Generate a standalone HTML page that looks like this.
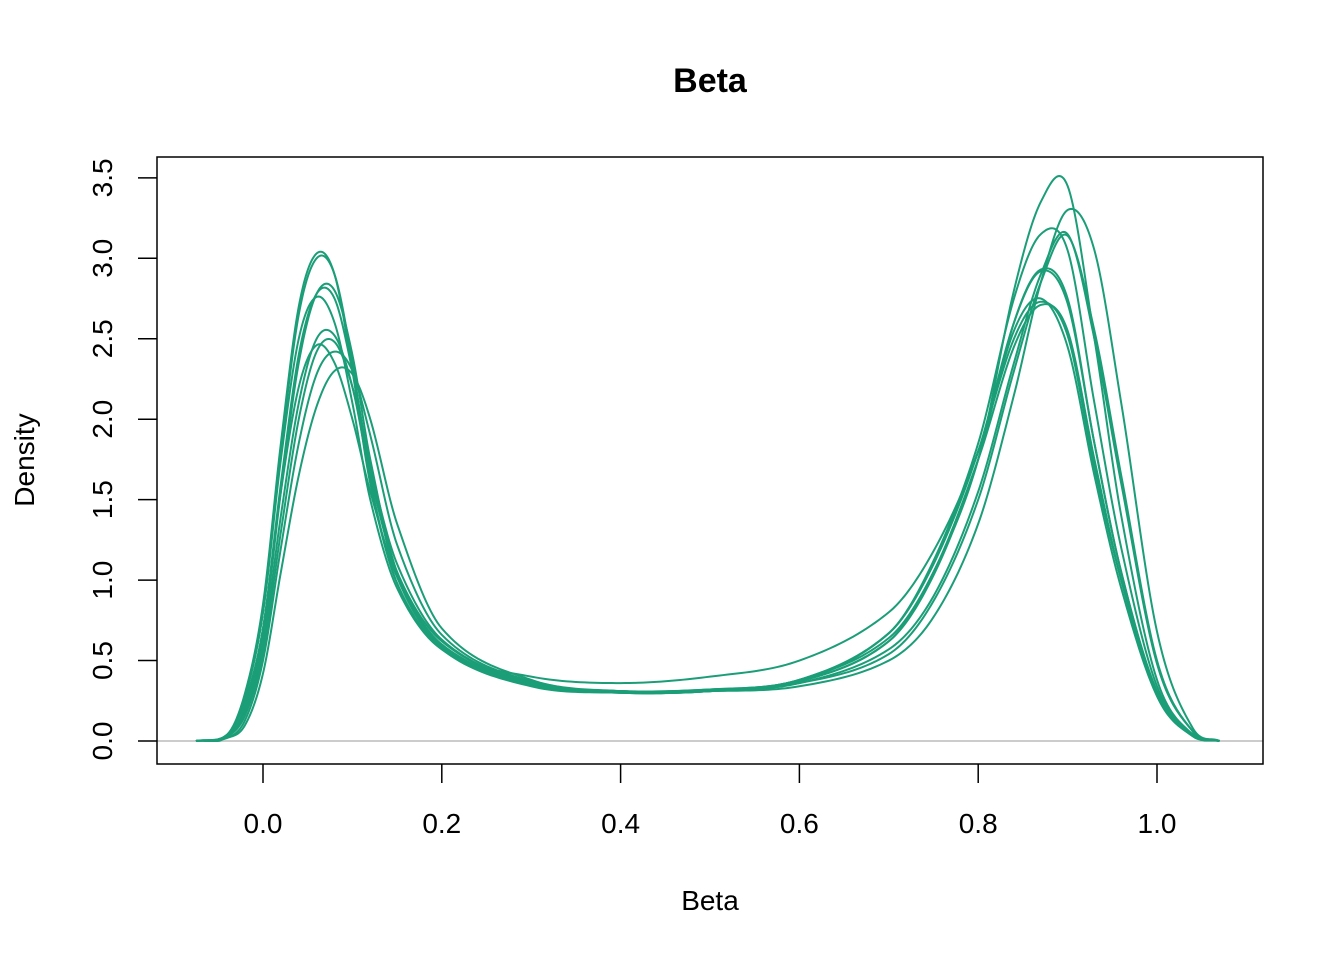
<!DOCTYPE html>
<html><head><meta charset="utf-8"><style>
html,body{margin:0;padding:0;background:#fff;}
svg{display:block;font-family:"Liberation Sans",Arial,sans-serif;}
</style></head><body>
<svg id="chart" width="1344" height="960" viewBox="0 0 1344 960">
<rect width="1344" height="960" fill="#fff"/>
<text x="710" y="92" text-anchor="middle" font-weight="bold" style="font-size:34px">Beta</text>
<text x="710" y="910" text-anchor="middle" style="font-size:28px">Beta</text>
<text transform="translate(34,460) rotate(-90)" text-anchor="middle" style="font-size:28px">Density</text>
<line x1="157" y1="741" x2="1263" y2="741" stroke="#cccccc" stroke-width="2"/>
<g id="curves"></g>
<rect x="157" y="157" width="1106" height="607" fill="none" stroke="#000" stroke-width="1.5"/>
<g id="axes"></g>
</svg>
<script>
const xGrid=[-0.075,-0.04,-0.02,0,0.02,0.04,0.06,0.08,0.10,0.12,0.15,0.2,0.3,0.4,0.5,0.6,0.7,0.75,0.8,0.84,0.87,0.9,0.93,0.96,1.0,1.04,1.07];
const curve1=[0,0.04,0.3,0.85,1.85,2.7,3.03,2.9,2.3,1.6,0.98,0.58,0.35,0.3,0.31,0.37,0.67,1.1,1.8,2.6,2.92,2.72,1.85,1.05,0.3,0.04,0];
const curve2=[0,0.03,0.28,0.8,1.8,2.65,3.0,2.9,2.35,1.62,0.98,0.57,0.34,0.3,0.31,0.38,0.64,1.05,1.75,2.45,2.71,2.55,1.75,1.0,0.3,0.04,0];
const curve3=[0,0.03,0.2,0.65,1.55,2.35,2.78,2.8,2.4,1.75,1.05,0.6,0.35,0.3,0.31,0.37,0.62,1.05,1.75,2.8,3.35,3.45,2.5,1.4,0.38,0.04,0];
const curve4=[0,0.03,0.22,0.7,1.6,2.4,2.78,2.75,2.3,1.7,1.02,0.59,0.35,0.31,0.32,0.38,0.67,1.12,1.85,2.75,3.15,3.05,2.1,1.2,0.34,0.04,0];
const curve5=[0,0.04,0.28,0.8,1.75,2.5,2.76,2.6,2.1,1.5,0.95,0.57,0.4,0.36,0.4,0.5,0.8,1.18,1.8,2.55,2.75,2.45,1.65,0.95,0.28,0.03,0];
const curve6=[0,0.03,0.18,0.6,1.4,2.1,2.5,2.52,2.2,1.65,1.05,0.62,0.36,0.31,0.31,0.36,0.57,0.9,1.55,2.35,2.9,3.15,2.5,1.6,0.48,0.06,0];
const curve7=[0,0.03,0.16,0.55,1.3,2.0,2.42,2.48,2.2,1.7,1.1,0.63,0.36,0.3,0.31,0.37,0.62,1.03,1.75,2.6,2.93,2.75,1.85,1.05,0.31,0.04,0];
const curve8=[0,0.04,0.25,0.7,1.55,2.2,2.46,2.35,2.0,1.55,1.02,0.6,0.36,0.31,0.32,0.36,0.54,0.87,1.5,2.3,2.85,3.14,2.55,1.65,0.5,0.06,0];
const curve9=[0,0.02,0.13,0.5,1.2,1.85,2.28,2.42,2.3,1.9,1.22,0.66,0.37,0.31,0.32,0.38,0.67,1.1,1.8,2.5,2.73,2.52,1.7,1.0,0.28,0.03,0];
const curve10=[0,0.02,0.1,0.42,1.05,1.65,2.08,2.3,2.28,2.0,1.35,0.7,0.38,0.31,0.31,0.34,0.5,0.77,1.35,2.15,2.85,3.3,3.05,2.1,0.68,0.08,0];
const seriesList=[curve1,curve2,curve3,curve4,curve5,curve6,curve7,curve8,curve9,curve10];
const xTicks=[0.0,0.2,0.4,0.6,0.8,1.0];
const xTickLabels=["0.0","0.2","0.4","0.6","0.8","1.0"];
const yTicks=[0,0.5,1,1.5,2,2.5,3,3.5];
const yTickLabels=["0.0","0.5","1.0","1.5","2.0","2.5","3.0","3.5"];

const NS="http://www.w3.org/2000/svg";
function sx(v){return 263+v*894;}
function sy(v){return 741-v*160.9;}

const cg=document.getElementById('curves');
seriesList.forEach((ys,k)=>{
  const n=xGrid.length,m=[];
  for(let i=0;i<n;i++){
    if(i===0)m.push((ys[1]-ys[0])/(xGrid[1]-xGrid[0]));
    else if(i===n-1)m.push((ys[n-1]-ys[n-2])/(xGrid[n-1]-xGrid[n-2]));
    else m.push((ys[i+1]-ys[i-1])/(xGrid[i+1]-xGrid[i-1]));
  }
  let d="";
  for(let i=0;i<n-1;i++){
    const h=xGrid[i+1]-xGrid[i];
    for(let s=0;s<=20;s++){
      if(i>0&&s===0)continue;
      const t=s/20,t2=t*t,t3=t2*t;
      let y=(2*t3-3*t2+1)*ys[i]+(t3-2*t2+t)*h*m[i]+(-2*t3+3*t2)*ys[i+1]+(t3-t2)*h*m[i+1];
      if(y<0)y=0;
      const x=xGrid[i]+t*h;
      d+=(d?"L":"M")+sx(x).toFixed(2)+","+sy(y).toFixed(2);
    }
  }
  const p=document.createElementNS(NS,'path');
  p.setAttribute('d',d);
  p.setAttribute('fill','none');
  p.setAttribute('stroke','#1b9e77');
  p.setAttribute('stroke-width','2');
  
  
  cg.appendChild(p);
});

const ag=document.getElementById('axes');
xTicks.forEach((v,i)=>{
  const l=document.createElementNS(NS,'line');
  l.setAttribute('x1',sx(v));l.setAttribute('x2',sx(v));
  l.setAttribute('y1',764);l.setAttribute('y2',783);
  l.setAttribute('stroke','#000');l.setAttribute('stroke-width','1.5');
  
  
  ag.appendChild(l);
  const t=document.createElementNS(NS,'text');
  t.setAttribute('x',sx(v));t.setAttribute('y',833);
  t.setAttribute('text-anchor','middle');t.setAttribute('font-size','28');
  t.textContent=xTickLabels[i];
  
  
  ag.appendChild(t);
});
yTicks.forEach((v,i)=>{
  const l=document.createElementNS(NS,'line');
  l.setAttribute('x1',138);l.setAttribute('x2',157);
  l.setAttribute('y1',sy(v));l.setAttribute('y2',sy(v));
  l.setAttribute('stroke','#000');l.setAttribute('stroke-width','1.5');
  
  
  ag.appendChild(l);
  const t=document.createElementNS(NS,'text');
  t.setAttribute('transform','translate(112,'+sy(v)+') rotate(-90)');
  t.setAttribute('text-anchor','middle');t.setAttribute('font-size','28');
  t.textContent=yTickLabels[i];
  
  
  ag.appendChild(t);
});
</script>
</body></html>
